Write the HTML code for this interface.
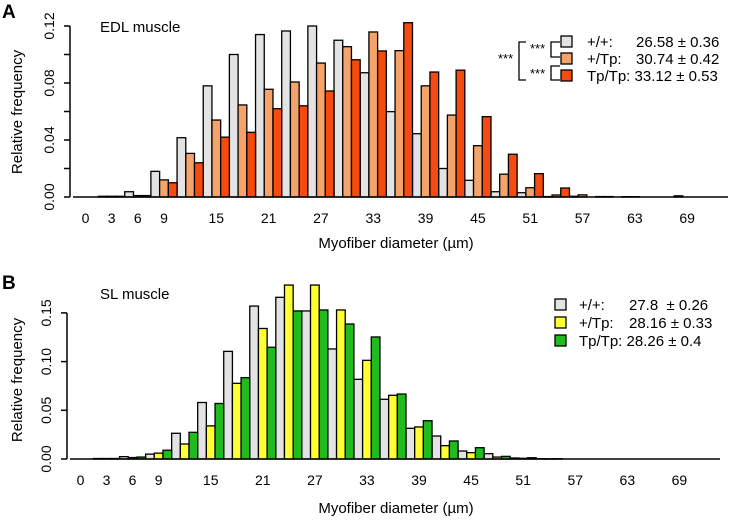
<!DOCTYPE html>
<html><head><meta charset="utf-8"><style>
body{margin:0;background:#fff}
svg{display:block;font-family:"Liberation Sans",Arial,sans-serif}
</style></head><body>
<svg id="chart" width="729" height="523" viewBox="0 0 729 523">
<text x="2" y="18" font-size="19" font-weight="bold">A</text>
<text x="2" y="289" font-size="19" font-weight="bold">B</text>
<text x="100" y="32" font-size="15">EDL muscle</text>
<text x="100" y="299" font-size="15">SL muscle</text>
<text transform="translate(22,112) rotate(-90)" text-anchor="middle" font-size="15">Relative frequency</text>
<text transform="translate(22,380) rotate(-90)" text-anchor="middle" font-size="15">Relative frequency</text>
<text x="396" y="248" text-anchor="middle" font-size="15">Myofiber diameter (µm)</text>
<text x="396" y="513" text-anchor="middle" font-size="15">Myofiber diameter (µm)</text>
<g font-size="15">
<path d="M560,42 h-9 v15 h9 M560,66 h-9 v14 h9 M526,42 h-7 v38 h7" fill="none" stroke="#000" stroke-width="1.3"/>
<text x="530" y="53" font-size="13">***</text>
<text x="530" y="78" font-size="13">***</text>
<text x="498" y="63" font-size="13">***</text>
<rect x="561" y="36" width="11" height="11" fill="#e3e3e3" stroke="#000" stroke-width="1.3"/>
<rect x="561" y="53" width="11" height="11" fill="#f4a46a" stroke="#000" stroke-width="1.3"/>
<rect x="561" y="70" width="11" height="11" fill="#f54a10" stroke="#000" stroke-width="1.3"/>
<text x="587" y="47">+/+:</text><text x="636" y="47">26.58 ± 0.36</text>
<text x="587" y="64">+/Tp:</text><text x="636" y="64">30.74 ± 0.42</text>
<text x="587" y="81">Tp/Tp: 33.12 ± 0.53</text>
</g>
<g font-size="15">
<rect x="555" y="299" width="11" height="11" fill="#e3e3e3" stroke="#000" stroke-width="1.3"/>
<rect x="555" y="317" width="11" height="11" fill="#ffff33" stroke="#000" stroke-width="1.3"/>
<rect x="555" y="335" width="11" height="11" fill="#1fbb1f" stroke="#000" stroke-width="1.3"/>
<text x="579" y="310">+/+:</text><text x="629" y="310">27.8 &#160;± 0.26</text>
<text x="579" y="328">+/Tp:</text><text x="629" y="328">28.16 ± 0.33</text>
<text x="579" y="346">Tp/Tp: 28.26 ± 0.4</text>
</g>
</svg>
<script>
const bins = [3,6,9,12,15,18,21,24,27,30,33,36,39,42,45,48,51,54,57,60,63,66,69];
const xTicks = [0,3,6,9,15,21,27,33,39,45,51,57,63,69];
const edlWT = [0.0005,0.0037,0.018,0.0416,0.078,0.100,0.114,0.1165,0.120,0.110,0.0872,0.0599,0.0444,0.020,0.0117,0.0037,0.003,0.0003,0.0005,0.0003,0.0002,0,0.0008];
const edlHet = [0.0005,0.001,0.012,0.0306,0.054,0.0646,0.0756,0.0807,0.094,0.1055,0.1158,0.1027,0.078,0.0575,0.036,0.016,0.0065,0.0014,0.0015,0.0003,0.0002,0,0];
const edlHom = [0.0005,0.001,0.010,0.024,0.042,0.0454,0.062,0.064,0.0744,0.0963,0.1025,0.1223,0.0877,0.089,0.0564,0.030,0.0164,0.0063,0,0,0,0,0];
const slWT = [0.0005,0.0024,0.005,0.0264,0.058,0.1105,0.157,0.166,0.152,0.113,0.0818,0.0613,0.0315,0.0236,0.0082,0.0055,0.001,0.0003,0,0,0,0,0];
const slHet = [0.0005,0.0015,0.006,0.0154,0.034,0.0777,0.134,0.1786,0.1786,0.153,0.1013,0.0654,0.0329,0.0137,0.0065,0.002,0.0007,0.0002,0,0,0,0,0];
const slHom = [0.0005,0.002,0.009,0.0274,0.057,0.0835,0.1147,0.152,0.153,0.1386,0.1253,0.0667,0.0393,0.0185,0.0116,0.0027,0.0013,0.0003,0,0,0,0,0];
const aTicks = [0,0.02,0.04,0.06,0.08,0.10,0.12];
const aLabels = ["0.00","","0.04","","0.08","","0.12"];
const bTicks = [0,0.05,0.10,0.15];
const bLabels = ["0.00","0.05","0.10","0.15"];
const NS='http://www.w3.org/2000/svg';
const svg=document.getElementById('chart');
function mk(t,a){const e=document.createElementNS(NS,t);for(const k in a)e.setAttribute(k,a[k]);svg.appendChild(e);return e;}
function panel(p){
  const xs=v=>p.x0+p.k*v;
  const ys=v=>p.y0-v*p.py;
  const bw=p.k;
  p.series.forEach((s,si)=>{
    bins.forEach((b,i)=>{
      const v=s.vals[i]; if(v<=0)return;
      const x=xs(b)+(si-1.5)*bw;
      const r=mk('rect',{x:x,y:ys(v),width:bw,height:Math.max(p.y0-ys(v),0.3),fill:s.color,stroke:'#000','stroke-width':1.3});
      
      
    });
  });
  const base=mk('line',{x1:p.ax+3,x2:p.xend,y1:p.y0,y2:p.y0,stroke:'#000','stroke-width':1.5});
  
  
  const ya=mk('line',{x1:p.ax,x2:p.ax,y1:ys(p.ticks[p.ticks.length-1]),y2:p.y0,stroke:'#000','stroke-width':1.5});
  
  
  p.ticks.forEach((t,i)=>{
    mk('line',{x1:p.ax-6,x2:p.ax,y1:ys(t),y2:ys(t),stroke:'#000','stroke-width':1.5});
    if(p.labels[i]){
      const tx=mk('text',{transform:`translate(${p.ax-16},${ys(t)}) rotate(-90)`,'text-anchor':'middle','font-size':14});
      tx.textContent=p.labels[i];
      
      
    }
  });
  xTicks.forEach(t=>{
    const tx=mk('text',{x:xs(t),y:p.y0+26,'text-anchor':'middle','font-size':14});
    tx.textContent=t;
    
    
  });
}
panel({id:'a',x0:85.5,k:8.72,y0:197,py:1425,ax:70,xend:728,ticks:aTicks,labels:aLabels,
  series:[{name:'wt',vals:edlWT,color:'#e3e3e3'},{name:'het',vals:edlHet,color:'#f4a46a'},{name:'hom',vals:edlHom,color:'#f54a10'}]});
panel({id:'b',x0:80.5,k:8.68,y0:459,py:974,ax:67,xend:720,ticks:bTicks,labels:bLabels,
  series:[{name:'wt',vals:slWT,color:'#e3e3e3'},{name:'het',vals:slHet,color:'#ffff33'},{name:'hom',vals:slHom,color:'#1fbb1f'}]});
</script>
</body></html>
